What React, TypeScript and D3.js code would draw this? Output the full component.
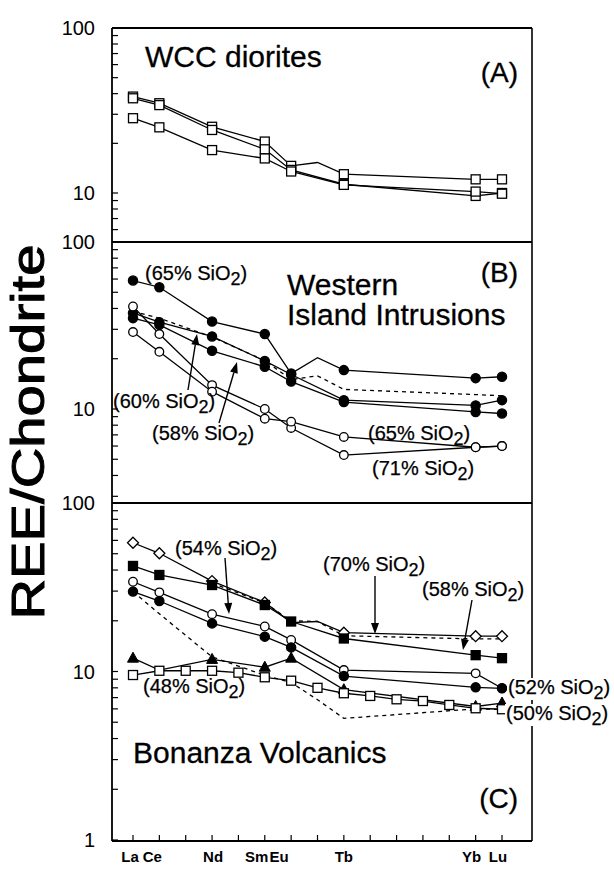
import React from "react";
import * as d3 from "d3";

type V = number | null;
const N = null;

const ELEMENTS = ["La", "Ce", "Pr", "Nd", "Pm", "Sm", "Eu", "Gd", "Tb", "Dy", "Ho", "Er", "Tm", "Yb", "Lu"];
const AXIS_LABELS = ["La", "Ce", "Nd", "Sm", "Eu", "Tb", "Yb", "Lu"];
const AXIS_LABEL_DX: Record<string, number> = { La: -3, Ce: -7, Nd: 1, Sm: -8, Eu: -12, Tb: 0, Yb: -4, Lu: -4 };

// Panel A: WCC diorites (open squares)
const A1: V[] = [38.4, 35.0, N, 25.2, N, 20.5, 14.6, 15.3, 13.0, N, N, N, N, 12.1, 12.1];
const A2: V[] = [37.5, 34.1, N, 24.1, N, 18.4, 13.8, N, 11.3, N, N, N, N, 9.6, 10.0];
const A3: V[] = [28.4, 25.0, N, 18.2, N, 16.2, 13.5, N, 11.2, N, N, N, N, 10.2, 9.9];

// Panel B: Western Island Intrusions
const B1: V[] = [58.8, 53.6, N, 33.4, N, 28.1, 16.3, 20.3, 17.1, N, N, N, N, 15.3, 15.6];
const B2: V[] = [37.6, 33.1, N, 27.2, N, 19.4, 16.1, N, 11.3, N, N, N, N, 10.5, 11.3];
const B3: V[] = [35.0, 31.9, N, 22.3, N, 17.9, 14.6, N, 11.0, N, N, N, N, 9.6, 9.4];
const B4: V[] = [41.1, 28.1, N, 13.9, N, 10.0, 7.7, N, 5.3, N, N, N, N, 5.9, 6.0];
const B5: V[] = [28.9, 22.0, N, 12.7, N, 8.75, 8.4, N, 6.8, N, N, N, N, 5.9, 6.0];
const B6: V[] = [38.5, 35.0, N, 27.0, N, 19.5, 15.0, 15.8, 13.1, N, N, N, N, 12.2, 12.0];

// Panel C: Bonanza Volcanics
const C1: V[] = [58.1, 50.3, N, 34.4, N, 25.7, 19.5, 19.8, 17.0, N, N, N, N, 16.2, 16.2];
const C2: V[] = [42.3, 37.4, N, 32.6, N, 24.8, 19.8, N, 15.7, N, N, N, N, 12.5, 12.0];
const C3: V[] = [34.1, 29.5, N, 21.9, N, 18.5, 15.4, N, 10.2, N, N, N, N, 9.75, 7.95];
const C4: V[] = [29.8, 26.2, N, 19.3, N, 16.1, 13.9, N, 9.4, N, N, N, N, 8.05, 7.95];
const C5: V[] = [12.0, 10.2, N, 11.8, N, 10.6, 12.0, N, 7.8, N, N, N, N, 6.2, 6.5];
const C6: V[] = [9.53, 10.1, 10.1, 10.1, 9.84, 9.24, 8.82, 8.0, 7.43, 7.16, 6.84, 6.68, 6.33, 6.05, 5.97];
const C7: V[] = [29.8, 22.0, N, 12.2, N, 9.5, 8.6, 6.8, 5.27, N, N, N, N, 6.0, 5.95];
const C8: V[] = [N, N, N, 33.5, N, 25.5, 20.0, 19.8, 16.3, N, N, N, N, 15.6, 15.6];

type Marker = "osq" | "fsq" | "ocirc" | "fcirc" | "odia" | "ftri" | "none";
interface Series { values: V[]; marker: Marker; dashed?: boolean; bare?: string[] }

const SERIES_A: Series[] = [
  { values: A1, marker: "osq", bare: ["Gd"] },
  { values: A2, marker: "osq" },
  { values: A3, marker: "osq" },
];
const SERIES_B: Series[] = [
  { values: B6, marker: "none", dashed: true },
  { values: B1, marker: "fcirc", bare: ["Gd"] },
  { values: B2, marker: "fcirc" },
  { values: B3, marker: "fcirc" },
  { values: B4, marker: "ocirc" },
  { values: B5, marker: "ocirc" },
];
const SERIES_C: Series[] = [
  { values: C7, marker: "none", dashed: true },
  { values: C8, marker: "none", dashed: true },
  { values: C1, marker: "odia", bare: ["Eu", "Gd"] },
  { values: C2, marker: "fsq" },
  { values: C3, marker: "ocirc" },
  { values: C4, marker: "fcirc" },
  { values: C5, marker: "ftri", bare: ["Ce"] },
  { values: C6, marker: "osq" },
];

const FONT = "'Liberation Sans', Arial, Helvetica, sans-serif";
const XL = 112, XR = 532;
const x = d3.scalePoint<string>().domain(ELEMENTS).range([133, 502]);

const panels = [
  { key: "A", top: 28, bottom: 242, y: d3.scaleLog().domain([10, 100]).range([193, 28]), minTick: 6, series: SERIES_A, labels: [10, 100] },
  { key: "B", top: 242, bottom: 503, y: d3.scaleLog().domain([10, 100]).range([409, 242]), minTick: 3, series: SERIES_B, labels: [10, 100] },
  { key: "C", top: 503, bottom: 841, y: d3.scaleLog().domain([1, 100]).range([840, 503]), minTick: 1, series: SERIES_C, labels: [1, 10, 100] },
];

function markerEl(m: Marker, cx: number, cy: number, key: string) {
  const sw = 1.3;
  switch (m) {
    case "osq": return <rect key={key} x={cx - 4.5} y={cy - 4.5} width={9} height={9} fill="#fff" stroke="#000" strokeWidth={sw} />;
    case "fsq": return <rect key={key} x={cx - 4.5} y={cy - 4.5} width={9} height={9} fill="#000" stroke="#000" strokeWidth={sw} />;
    case "ocirc": return <circle key={key} cx={cx} cy={cy} r={4.3} fill="#fff" stroke="#000" strokeWidth={sw} />;
    case "fcirc": return <circle key={key} cx={cx} cy={cy} r={4.6} fill="#000" stroke="#000" strokeWidth={sw} />;
    case "odia": return <path key={key} d={`M${cx},${cy - 5.5}L${cx + 5.5},${cy}L${cx},${cy + 5.5}L${cx - 5.5},${cy}Z`} fill="#fff" stroke="#000" strokeWidth={sw} />;
    case "ftri": return <path key={key} d={`M${cx},${cy - 6}L${cx + 5.5},${cy + 4}L${cx - 5.5},${cy + 4}Z`} fill="#000" stroke="#000" strokeWidth={1} />;
    default: return null;
  }
}

function Arrow({ x1, y1, x2, y2 }: { x1: number; y1: number; x2: number; y2: number }) {
  const a = Math.atan2(y2 - y1, x2 - x1);
  const L = 11, W = 4;
  const bx = x2 - L * Math.cos(a), by = y2 - L * Math.sin(a);
  const px = -Math.sin(a) * W, py = Math.cos(a) * W;
  return (
    <g>
      <line x1={x1} y1={y1} x2={bx} y2={by} stroke="#000" strokeWidth={1.4} />
      <path d={`M${x2},${y2}L${bx + px},${by + py}L${bx - px},${by - py}Z`} fill="#000" />
    </g>
  );
}

function Sio({ x0, y0, pct, bg }: { x0: number; y0: number; pct: string; bg?: boolean }) {
  return (
    <g>
      {bg && <rect x={x0 - 1} y={y0 - 16} width={108} height={22} fill="#fff" />}
      <text x={x0} y={y0} fontSize={20} fontFamily={FONT} stroke="#000" strokeWidth={0.25}>
        {`(${pct}% SiO`}
        <tspan dy={5} fontSize={18}>2</tspan>
        <tspan dy={-5}>)</tspan>
      </text>
    </g>
  );
}

export default function App() {
  const line = d3.line<{ e: string; v: number }>().x(d => x(d.e) as number);
  return (
    <svg width={614} height={870} style={{ position: "absolute", left: 0, top: 0, background: "#fff" }}>
      <rect width={614} height={870} fill="#fff" />
      {panels.map(p => {
        const pts = (s: Series) => ELEMENTS.map((e, i) => ({ e, v: s.values[i] })).filter(d => d.v != null) as { e: string; v: number }[];
        const ticks: number[] = [];
        for (let dec = 1; dec <= 10; dec *= 10) for (let k = 1; k <= 9; k++) {
          const v = k * dec;
          if (v >= p.minTick && v < 100) ticks.push(v);
        }
        return (
          <g key={p.key}>
            {ticks.map(t => (
              <line key={t} x1={XL} x2={XL + 6} y1={p.y(t)} y2={p.y(t)} stroke="#000" strokeWidth={1.2} />
            ))}
            {p.labels.map(l => (
              <text key={l} x={95} y={p.y(l) + 7} textAnchor="end" fontSize={20} fontFamily={FONT}>{l}</text>
            ))}
            {p.series.map((s, si) => (
              <path key={si} d={line.y(d => p.y(d.v))(pts(s)) || ""} fill="none" stroke="#000" strokeWidth={1.3}
                strokeDasharray={s.dashed ? "4,4" : undefined} />
            ))}
            {p.series.map((s, si) => (
              <g key={"m" + si}>
                {pts(s).filter(d => !(s.bare || []).includes(d.e)).map(d => markerEl(s.marker, x(d.e) as number, p.y(d.v), d.e))}
              </g>
            ))}
          </g>
        );
      })}

      {/* frame */}
      <line x1={XL} x2={XL} y1={28} y2={841} stroke="#000" strokeWidth={1.8} />
      <line x1={XL} x2={XR} y1={28} y2={28} stroke="#000" strokeWidth={1.8} />
      <line x1={XL} x2={XR} y1={242} y2={242} stroke="#000" strokeWidth={1.8} />
      <line x1={XL} x2={XR} y1={503} y2={503} stroke="#000" strokeWidth={1.8} />
      <line x1={XL} x2={XR} y1={841} y2={841} stroke="#000" strokeWidth={1.8} />
      <line x1={XR} x2={XR} y1={28} y2={841} stroke="#000" strokeWidth={1.6} />
      {ELEMENTS.map(e => (
        <line key={e} x1={x(e)} x2={x(e)} y1={841} y2={835} stroke="#000" strokeWidth={1.2} />
      ))}
      {AXIS_LABELS.map(e => (
        <text key={e} x={(x(e) as number) + AXIS_LABEL_DX[e]} y={862} textAnchor="middle" fontSize={15} fontWeight="bold" fontFamily={FONT}>{e}</text>
      ))}

      <text transform="translate(44,432) rotate(-90)" textAnchor="middle" fontSize={46} fontFamily={FONT} textLength={375} lengthAdjust="spacingAndGlyphs" stroke="#000" strokeWidth={1}>REE/Chondrite</text>

      {/* panel titles */}
      <text x={145} y={67} fontSize={30} fontFamily={FONT} stroke="#000" strokeWidth={0.3}>WCC diorites</text>
      <text x={518} y={82} textAnchor="end" fontSize={28} fontFamily={FONT} stroke="#000" strokeWidth={0.3}>(A)</text>
      <text x={287} y={295} fontSize={30} fontFamily={FONT} stroke="#000" strokeWidth={0.3}>Western</text>
      <text x={287} y={325} fontSize={30} fontFamily={FONT} stroke="#000" strokeWidth={0.3}>Island Intrusions</text>
      <text x={518} y={282} textAnchor="end" fontSize={28} fontFamily={FONT} stroke="#000" strokeWidth={0.3}>(B)</text>
      <text x={133} y={763} fontSize={30} fontFamily={FONT} stroke="#000" strokeWidth={0.3}>Bonanza Volcanics</text>
      <text x={518} y={808} textAnchor="end" fontSize={28} fontFamily={FONT} stroke="#000" strokeWidth={0.3}>(C)</text>

      {/* panel B annotations */}
      <Sio x0={145} y0={280} pct="65" />
      <Sio x0={113} y0={408} pct="60" />
      <Sio x0={152} y0={440} pct="58" />
      <Sio x0={368} y0={440} pct="65" />
      <Sio x0={372} y0={475} pct="71" />
      <Arrow x1={188} y1={390} x2={197} y2={334} />
      <Arrow x1={219} y1={423} x2={237} y2={362} />

      {/* panel C annotations */}
      <Sio x0={175} y0={555} pct="54" />
      <Sio x0={323} y0={571} pct="70" />
      <Sio x0={422} y0={596} pct="58" />
      <Sio x0={143} y0={693} pct="48" />
      <Sio x0={508} y0={694} pct="52" bg />
      <Sio x0={506} y0={720} pct="50" bg />
      <Arrow x1={225} y1={558} x2={229} y2={614} />
      <Arrow x1={375} y1={576} x2={375} y2={634} />
      <Arrow x1={472} y1={600} x2={463} y2={650} />
    </svg>
  );
}
